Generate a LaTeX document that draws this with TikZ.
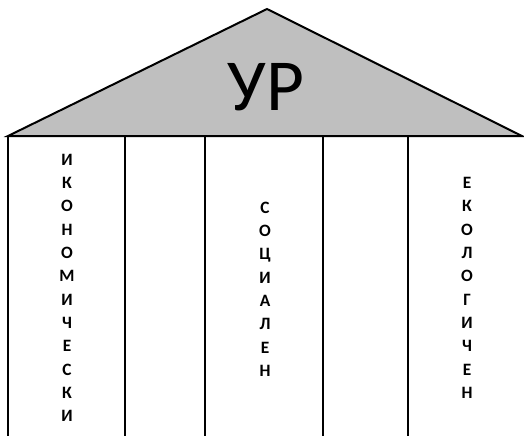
\documentclass[tikz,border=0pt]{standalone}
\usepackage{fontspec}
\setmainfont{Carlito}
\usepackage{tikz}

\begin{document}
\begin{tikzpicture}[
   x=0.75pt,y=-0.75pt,
   roof/.style={draw,line width=1.5pt,fill=black!25,line join=miter},
   pillar/.style={line width=1.5pt},
   word/.style={font=\bfseries\fontsize{13}{17.5}\selectfont,align=center,inner sep=0pt},
   title/.style={font=\fontsize{55}{60}\selectfont,inner sep=0pt}]
\useasboundingbox (0,0) rectangle (524,435);
\draw[roof] (8,136) -- (267,9) -- (522,136) -- cycle;
\node[title] (ur) at (266,87) {УР};
\foreach \x in {8,125,205,323,408}
  \draw[pillar] (\x,136) -- (\x,436);
\node[word] (ikon) at (67,288) {И\\К\\О\\Н\\О\\М\\И\\Ч\\Е\\С\\К\\И};
\node[word] (soc) at (265,289) {С\\О\\Ц\\И\\А\\Л\\Е\\Н};
\node[word] (eko) at (467,288) {Е\\К\\О\\Л\\О\\Г\\И\\Ч\\Е\\Н};
\end{tikzpicture}
\end{document}
